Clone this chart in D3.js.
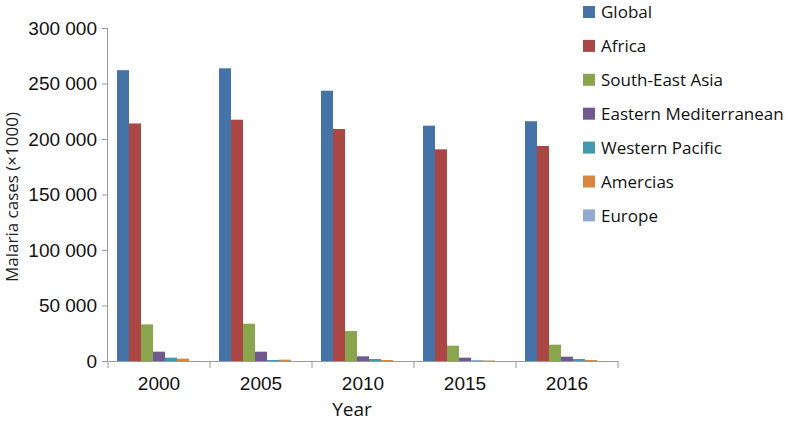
<!DOCTYPE html>
<html>
<head>
<meta charset="utf-8">
<script src="https://cdn.jsdelivr.net/npm/d3@7"></script>
<style>
  html, body { margin: 0; padding: 0; background: #fff; }
  svg { display: block; font-family: "Open Sans", "Noto Sans", sans-serif; }
</style>
</head>
<body>
<svg id="chart" width="787" height="422"></svg>
<script>
const years = ["2000", "2005", "2010", "2015", "2016"];
const series = ["Global", "Africa", "South-East Asia", "Eastern Mediterranean", "Western Pacific", "Amercias", "Europe"];
const colors = ["#4572A7", "#AA4643", "#89A54E", "#71588F", "#4198AF", "#DB843D", "#93A9CF"];
// values in thousands, per series, per year
const globalCases   = [262000, 263700, 243500, 212000, 216000];
const africaCases   = [214000, 217400, 209000, 190700, 193700];
const seAsiaCases   = [33000, 33600, 27000, 13800, 14700];
const eMedCases     = [8400, 8400, 4200, 3000, 3900];
const wPacificCases = [3000, 900, 1800, 600, 1800];
const americasCases = [2100, 1200, 900, 500, 900];
const europeCases   = [32, 1, 0.2, 0, 0];
const yTicks = [0, 50000, 100000, 150000, 200000, 250000, 300000];

const seriesValues = [globalCases, africaCases, seAsiaCases, eMedCases, wPacificCases, americasCases, europeCases];

const svg = d3.select("#chart");
const axisColor = "#9a9a9a";

const x0 = d3.scaleBand().domain(years).range([108, 618]).paddingInner(0).paddingOuter(0);
const x1 = d3.scaleBand().domain(series).range([0, x0.bandwidth()]).paddingInner(0).paddingOuter(0.75);
const y = d3.scaleLinear().domain([0, 300000]).range([361, 28]);
const color = d3.scaleOrdinal().domain(series).range(colors);

// bars
const groups = svg.append("g").selectAll("g").data(years).join("g")
  .attr("transform", d => `translate(${x0(d)},0)`);
groups.selectAll("rect")
  .data((yr, i) => series.map((s, k) => ({ s, v: seriesValues[k][i] })))
  .join("rect")
  .attr("x", d => x1(d.s))
  .attr("width", x1.bandwidth())
  .attr("y", d => y(d.v))
  .attr("height", d => y(0) - y(d.v))
  .attr("fill", d => color(d.s));

// y axis
const yAxis = svg.append("g").attr("transform", "translate(108,0)")
  .call(d3.axisLeft(y).tickValues(yTicks).tickSize(6).tickPadding(5)
    .tickFormat(d => d3.format(",")(d).replace(/,/g, " ")));
yAxis.select(".domain").attr("stroke", axisColor).attr("d", `M-0.5,${y(300000)}V${y(0)}`);
yAxis.selectAll(".tick line").attr("stroke", axisColor);
yAxis.selectAll(".tick text").attr("font-size", 19).attr("fill", "#111");

// x axis
const xAxis = svg.append("g").attr("transform", `translate(0,${y(0)})`)
  .call(d3.axisBottom(x0).tickSize(0).tickPadding(16));
xAxis.select(".domain").attr("stroke", axisColor);
xAxis.selectAll(".tick text").attr("font-size", 19).attr("fill", "#111");
const bounds = years.map(d => x0(d)).concat([x0.range()[1]]);
xAxis.selectAll(".bound").data(bounds).join("line")
  .attr("class", "bound")
  .attr("x1", d => d).attr("x2", d => d)
  .attr("y1", 0).attr("y2", 7)
  .attr("stroke", axisColor);

// axis titles
svg.append("text")
  .attr("transform", "rotate(-90)")
  .attr("x", -197).attr("y", 18)
  .attr("text-anchor", "middle")
  .attr("font-size", 17).attr("fill", "#222")
  .text("Malaria cases (×1000)");
svg.append("text")
  .attr("x", 352).attr("y", 416)
  .attr("text-anchor", "middle")
  .attr("font-size", 19).attr("fill", "#111")
  .text("Year");

// legend
const legend = svg.append("g").selectAll("g").data(series).join("g")
  .attr("transform", (d, i) => `translate(583,${12 + i * 33.9})`);
legend.append("rect")
  .attr("x", 0).attr("y", -6).attr("width", 12).attr("height", 12)
  .attr("fill", d => color(d));
legend.append("text")
  .attr("x", 18).attr("y", 0).attr("dy", "0.36em")
  .attr("font-size", 17).attr("fill", "#111")
  .text(d => d);
</script>
</body>
</html>
